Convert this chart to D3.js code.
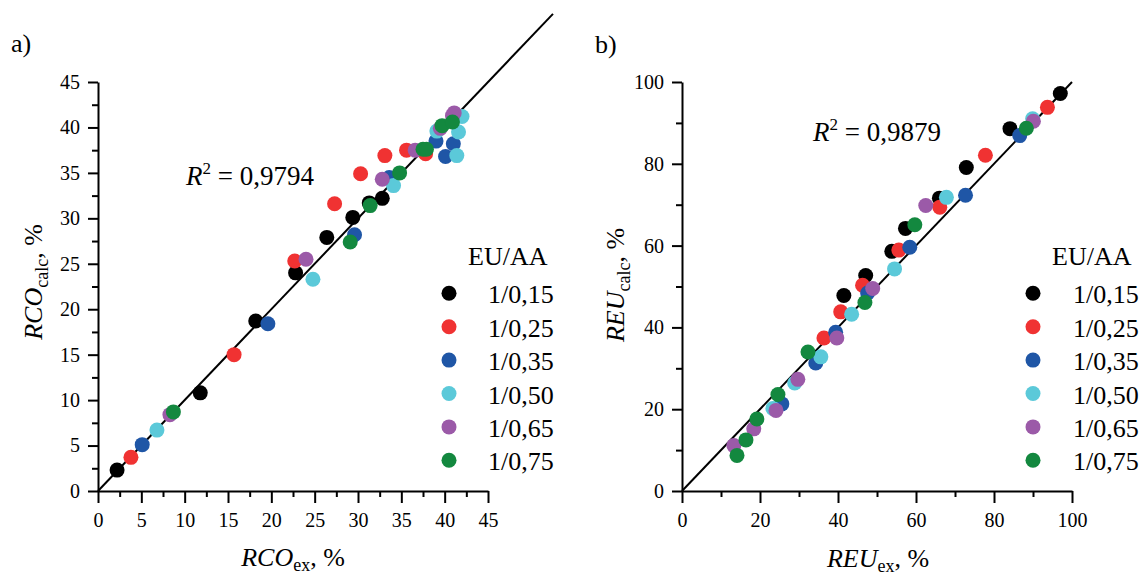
<!DOCTYPE html>
<html>
<head>
<meta charset="utf-8">
<script src="https://cdn.jsdelivr.net/npm/d3@7"></script>
<style>
  body { margin: 0; background: #fff; }
  svg { display: block; }
  svg text { font-family: 'Liberation Serif', 'DejaVu Serif', serif; fill: #000; }
</style>
</head>
<body>
<svg id="chart" width="1142" height="577" font-family="Liberation Serif"></svg>
<script>
// EU/AA ratios and their marker colours
const groups = ["1/0,15", "1/0,25", "1/0,35", "1/0,50", "1/0,65", "1/0,75"];
const groupColors = ["#000000", "#f03232", "#1f56a6", "#5bc9d9", "#9b5aa8", "#13883f"];

// Panel a: [RCO_ex, RCO_calc] in %
const rco015 = [[2.2, 2.3], [11.8, 10.8], [18.2, 18.7], [22.8, 24.0], [26.4, 27.9], [29.4, 30.1], [31.3, 31.7], [32.8, 32.2]];
const rco025 = [[3.8, 3.7], [15.7, 15.0], [22.7, 25.3], [27.3, 31.6], [30.3, 34.9], [33.1, 36.9], [35.6, 37.5], [37.8, 37.1]];
const rco035 = [[5.1, 5.1], [19.6, 18.4], [29.6, 28.2], [33.6, 34.5], [39.0, 38.5], [41.0, 38.2], [40.1, 36.8]];
const rco050 = [[6.8, 6.7], [24.8, 23.3], [34.1, 33.6], [39.1, 39.6], [41.6, 39.5], [42.0, 41.2], [41.4, 36.9]];
const rco065 = [[8.3, 8.4], [24.0, 25.5], [32.8, 34.3], [36.6, 37.5], [39.5, 39.9], [41.1, 41.6], [40.9, 41.3]];
const rco075 = [[8.7, 8.7], [29.1, 27.4], [31.4, 31.4], [34.8, 35.0], [37.5, 37.6], [37.9, 37.6], [39.7, 40.2], [40.9, 40.6]];

// Panel b: [REU_ex, REU_calc] in %
const reu015 = [[41.5, 47.8], [47.1, 52.7], [53.8, 58.6], [57.3, 64.2], [66.0, 71.6], [72.9, 79.1], [84.1, 88.6], [97.0, 97.2]];
const reu025 = [[36.4, 37.4], [40.7, 43.8], [46.3, 50.3], [55.6, 58.9], [66.1, 69.4], [77.8, 82.1], [93.7, 93.8]];
const reu035 = [[25.6, 21.3], [34.3, 31.3], [39.4, 38.8], [47.6, 48.4], [58.4, 59.6], [72.7, 72.3], [86.6, 86.9]];
const reu050 = [[23.3, 20.2], [28.9, 26.4], [35.6, 32.8], [43.5, 43.2], [54.5, 54.3], [67.8, 71.8], [89.9, 91.0]];
const reu065 = [[13.3, 11.1], [18.4, 15.2], [24.1, 19.7], [29.7, 27.3], [39.7, 37.4], [48.9, 49.5], [62.5, 69.8], [90.1, 90.4]];
const reu075 = [[14.1, 8.7], [16.4, 12.5], [19.2, 17.6], [24.6, 23.6], [32.3, 34.0], [46.9, 46.1], [59.7, 65.1], [88.3, 88.7]];

const rcoSeries = [rco015, rco025, rco035, rco050, rco065, rco075];
const reuSeries = [reu015, reu025, reu035, reu050, reu065, reu075];

// Axis ticks
const rcoMajor = [0, 5, 10, 15, 20, 25, 30, 35, 40, 45];
const rcoMinor = [2.5, 7.5, 12.5, 17.5, 22.5, 27.5, 32.5, 37.5, 42.5];
const reuMajor = [0, 20, 40, 60, 80, 100];
const reuMinor = [10, 30, 50, 70, 90];

const r2Values = ["0,9794", "0,9879"];

const FONT = "Liberation Serif";
const svg = d3.select("#chart");

function drawPanel(cfg) {
  const x = d3.scaleLinear().domain(cfg.domain).range(cfg.xRange);
  const y = d3.scaleLinear().domain(cfg.domain).range(cfg.yRange);
  const g = svg.append("g").attr("font-family", FONT);

  // y = x reference line
  g.append("line")
    .attr("x1", x(0)).attr("y1", y(0))
    .attr("x2", x(cfg.lineEnd)).attr("y2", y(cfg.lineEnd))
    .attr("stroke", "#000").attr("stroke-width", 2);

  const styleAxis = sel => {
    sel.attr("font-family", FONT).attr("font-size", 20);
    sel.selectAll("path.domain").attr("stroke", "#000").attr("stroke-width", 2);
    sel.selectAll(".tick line").attr("stroke", "#000").attr("stroke-width", 2);
    sel.selectAll(".tick text").attr("font-family", FONT).attr("font-size", 20).attr("fill", "#000");
  };

  // x axis
  g.append("g").attr("transform", `translate(0,${cfg.yRange[0]})`)
    .call(d3.axisBottom(x).tickValues(cfg.minor).tickSize(6).tickFormat("").tickSizeOuter(0))
    .call(s => s.select("path.domain").remove())
    .call(styleAxis);
  g.append("g").attr("transform", `translate(0,${cfg.yRange[0]})`)
    .call(d3.axisBottom(x).tickValues(cfg.major).tickSize(12).tickPadding(10).tickSizeOuter(0))
    .call(styleAxis);

  // y axis
  g.append("g").attr("transform", `translate(${cfg.xRange[0]},0)`)
    .call(d3.axisLeft(y).tickValues(cfg.minor).tickSize(6).tickFormat("").tickSizeOuter(0))
    .call(s => s.select("path.domain").remove())
    .call(styleAxis);
  g.append("g").attr("transform", `translate(${cfg.xRange[0]},0)`)
    .call(d3.axisLeft(y).tickValues(cfg.major).tickSize(10).tickPadding(8).tickSizeOuter(0))
    .call(styleAxis);

  // data points, first ratio at the back
  cfg.series.forEach((pts, i) => {
    g.append("g").selectAll("circle").data(pts).join("circle")
      .attr("cx", d => x(d[0])).attr("cy", d => y(d[1]))
      .attr("r", 7.5).attr("fill", groupColors[i]);
  });

  // panel letter
  g.append("text").attr("x", cfg.letterPos[0]).attr("y", cfg.letterPos[1])
    .attr("font-size", 26).text(cfg.letter);

  // R^2 annotation
  const r2 = g.append("text").attr("x", cfg.r2Pos[0]).attr("y", cfg.r2Pos[1]).attr("font-size", 27);
  r2.append("tspan").attr("font-style", "italic").text("R");
  r2.append("tspan").attr("dy", -11).attr("font-size", 17).text("2");
  r2.append("tspan").attr("dy", 11).text(" = " + cfg.r2);

  // x axis title
  const xt = g.append("text").attr("x", cfg.xTitlePos[0]).attr("y", cfg.xTitlePos[1])
    .attr("text-anchor", "middle").attr("font-size", 26);
  xt.append("tspan").attr("font-style", "italic").text(cfg.name);
  xt.append("tspan").attr("dy", 5).attr("font-size", 18).text("ex");
  xt.append("tspan").attr("dy", -5).text(", %");

  // y axis title
  const yt = g.append("text")
    .attr("transform", `translate(${cfg.yTitlePos[0]},${cfg.yTitlePos[1]}) rotate(-90)`)
    .attr("text-anchor", "middle").attr("font-size", 26);
  yt.append("tspan").attr("font-style", "italic").text(cfg.name);
  yt.append("tspan").attr("dy", 6).attr("font-size", 18).text("calc");
  yt.append("tspan").attr("dy", -6).text(", %");

  // legend
  const lg = g.append("g");
  lg.append("text").attr("x", cfg.legend[0] + 19).attr("y", 265)
    .attr("font-size", 26).text("EU/AA");
  groups.forEach((name, i) => {
    const cy = 293.3 + i * 33.4;
    lg.append("circle").attr("cx", cfg.legend[0]).attr("cy", cy).attr("r", 7.5).attr("fill", groupColors[i]);
    lg.append("text").attr("x", cfg.legend[1]).attr("y", cy + 10)
      .attr("font-size", 26).text(name);
  });
}

drawPanel({
  domain: [0, 45], xRange: [98, 488], yRange: [491, 82], lineEnd: 52.5,
  major: rcoMajor, minor: rcoMinor, series: rcoSeries,
  letter: "a)", letterPos: [11, 52], r2: r2Values[0], r2Pos: [186, 185],
  name: "RCO", xTitlePos: [293, 566], yTitlePos: [42, 282],
  legend: [449, 488]
});

drawPanel({
  domain: [0, 100], xRange: [682, 1072], yRange: [491, 82], lineEnd: 100,
  major: reuMajor, minor: reuMinor, series: reuSeries,
  letter: "b)", letterPos: [595, 53], r2: r2Values[1], r2Pos: [813, 141],
  name: "REU", xTitlePos: [878, 567], yTitlePos: [624, 285],
  legend: [1033, 1073]
});
</script>
</body>
</html>
